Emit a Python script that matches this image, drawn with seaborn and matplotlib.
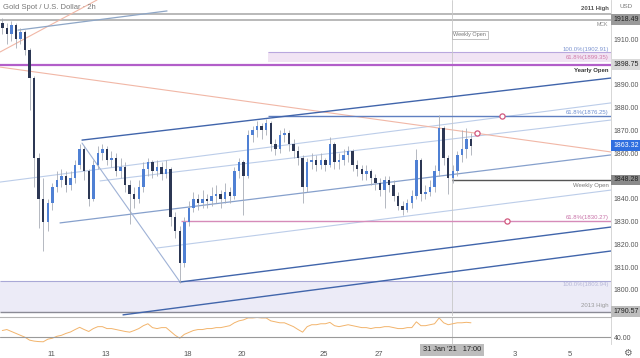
"""Gold spot 2h chart with channel drawings and RSI pane"""
import matplotlib
matplotlib.use("Agg")
import matplotlib.pyplot as plt
import pandas as pd
import seaborn as sns

# 4h bars, first bar on 8 Jan
CLOSE = [1915, 1912, 1916, 1910, 1913, 1905, 1893, 1858, 1840, 1830,
         1838, 1845, 1848, 1850, 1846, 1849, 1855, 1862, 1852, 1840,
         1855, 1860, 1862, 1857, 1858, 1852, 1854, 1846, 1842, 1840,
         1845, 1853, 1856, 1852, 1854, 1851, 1853, 1832, 1826, 1812,
         1830, 1836, 1840, 1838, 1840, 1839, 1841, 1842, 1840, 1843,
         1841, 1852, 1856, 1850, 1868, 1870, 1872, 1870, 1873, 1864,
         1862, 1868, 1869, 1864, 1861, 1858, 1845, 1856, 1857, 1855,
         1857, 1855, 1864, 1856, 1857, 1859, 1861, 1855, 1853, 1851,
         1852, 1849, 1847, 1844, 1848, 1846, 1841, 1837, 1835, 1838,
         1841, 1857, 1842, 1843, 1845, 1852, 1871, 1858, 1849, 1852,
         1859, 1862, 1866, 1863.32]
HIGH = [1919, 1917, 1918, 1917, 1915, 1914, 1906, 1894, 1860, 1849,
        1840, 1847, 1852, 1853, 1852, 1852, 1857, 1864, 1863, 1853,
        1857, 1863, 1864, 1863, 1861, 1860, 1858, 1856, 1848, 1845,
        1848, 1856, 1858, 1857, 1857, 1856, 1857, 1854, 1834, 1828,
        1832, 1839, 1843, 1842, 1844, 1842, 1845, 1846, 1844, 1847,
        1845, 1854, 1858, 1857, 1870, 1872, 1874, 1873, 1875, 1874,
        1866, 1870, 1871, 1870, 1866, 1863, 1859, 1858, 1860, 1859,
        1860, 1858, 1867, 1865, 1860, 1862, 1863, 1862, 1857, 1855,
        1855, 1853, 1851, 1849, 1850, 1850, 1848, 1843, 1839, 1840,
        1844, 1862, 1858, 1846, 1848, 1855, 1876.5, 1872, 1859, 1855,
        1861, 1870, 1871, 1869]
LOW = [1912, 1908, 1909, 1906, 1908, 1903, 1879, 1845, 1827, 1817,
       1826, 1835, 1843, 1845, 1843, 1844, 1847, 1853, 1848, 1837,
       1839, 1853, 1857, 1855, 1854, 1850, 1849, 1843, 1829, 1836,
       1838, 1843, 1850, 1849, 1850, 1848, 1849, 1828, 1823, 1803,
       1810, 1828, 1834, 1835, 1836, 1836, 1837, 1838, 1836, 1838,
       1838, 1840, 1849, 1833, 1849, 1865, 1867, 1866, 1868, 1861,
       1859, 1860, 1865, 1861, 1858, 1855, 1838, 1843, 1853, 1852,
       1853, 1852, 1854, 1853, 1853, 1855, 1856, 1852, 1850, 1848,
       1848, 1846, 1844, 1841, 1836, 1843, 1839, 1835, 1833, 1834,
       1836, 1840, 1839, 1840, 1841, 1843, 1850, 1855, 1842, 1847,
       1850, 1856, 1858, 1859]
FIRST_OPEN = 1917
RSI = [47, 48, 46, 44, 42, 40, 37, 36, 35.5, 35.3,
       38, 39, 41, 42, 44, 45.5, 48, 50.3, 48, 46,
       49, 51, 51, 49, 49, 48, 47, 46, 45.3, 47,
       49, 52, 54, 50, 49, 50, 50, 46, 42, 39,
       43, 45, 47, 48, 48, 49, 49, 50, 50, 51,
       52, 55, 57, 58, 60, 60, 60.5, 60, 60, 57,
       56, 55, 55, 53, 51, 48, 45.3, 51, 53, 53,
       54, 54, 55.4, 52, 51, 52, 53, 52, 51, 50,
       50, 49, 50, 50, 51, 51, 50, 49, 49, 50,
       50, 56, 52, 52, 53, 54, 60, 55, 53, 54,
       55, 55, 55.5, 55]

# x is a trading-day index, 11 Jan = 0 (weekends skipped)
BAR_START = -1.786
BARS_PER_DAY = 6
DAY_TICKS = [0, 2, 5, 7, 10, 12, 17, 19]
DAY_LABELS = ["11", "13", "18", "20", "25", "27", "3", "5"]
PRICE_TICKS = [1800, 1810, 1820, 1830, 1840, 1860, 1870, 1880, 1890, 1910]
CROSSHAIR_DAY = 14.69

# trend lines: (day0, price0, day1, price1)
CHANNEL_DARK = [(1.134, 1865.7, 20.51, 1892.9),
                (4.723, 1803.5, 20.51, 1827.6),
                (2.636, 1789.1, 20.51, 1817.1)]
CHANNEL_LIGHT = [(-1.87, 1847.3, 20.51, 1882.0),
                 (1.793, 1847.8, 20.51, 1874.5),
                 (3.881, 1818.4, 20.51, 1843.8)]
CHANNEL_MID = (0.328, 1829.4, 20.51, 1859.2)
HANDLE = (1.134, 1864.4, 4.723, 1803.5)
SALMON_DOWN = (-1.87, 1897.7, 20.51, 1860.5)
SALMON_UP = (-1.87, 1904.3, 1.683, 1927.1)
OLD_TREND = (-1.21, 1913.9, 4.247, 1922.3)
CIRCLES_DAY = [15.6, 16.52, 16.70]
CIRCLES_PRICE = [1868.9, 1876.25, 1830.27]

HIGH_2011 = 1920.8
LEVEL_1918 = 1918.49
YEARLY_OPEN = 1898.75
FIB_BAND = (1904.2, 1899.9)
FIB_1876 = 1876.25
WEEKLY_OPEN = 1848.28
FIB_1830 = 1830.27
LOW_BOX = (1803.9, 1790.57)
LAST_PRICE = 1863.32

XMIN, XMAX = -1.87, 20.51
UP, DOWN, WICK = "#4f80d4", "#2c3754", "#a8adb7"

sns.set_theme(style="white")
plt.rcParams["font.family"] = ["Liberation Sans", "DejaVu Sans"]

bars = pd.DataFrame({"close": CLOSE, "high": HIGH, "low": LOW, "rsi": RSI})
bars["open"] = [FIRST_OPEN] + CLOSE[:-1]
bars["day"] = BAR_START + bars.index / BARS_PER_DAY

fig = plt.figure(figsize=(6.4, 3.58), dpi=100)
ax = fig.add_axes([0.0, 0.1173, 0.9547, 0.8827])
rx = fig.add_axes([0.0, 0.0391, 0.9547, 0.0754], sharex=ax)


def seg(a, line, **kw):
    a.plot([line[0], line[2]], [line[1], line[3]], **kw)


# level boxes and horizontal levels
ax.fill_between([XMIN, XMAX], LOW_BOX[1], LOW_BOX[0], color="#ecebf7", lw=0, zorder=0)
ax.hlines(LOW_BOX[0], XMIN, XMAX, color="#a9a8d6", lw=0.8, zorder=1)
ax.hlines(LOW_BOX[1], XMIN, XMAX, color="#8a8a95", lw=1.0, zorder=1)
ax.fill_between([7.947, XMAX], FIB_BAND[1], FIB_BAND[0], color="#f1e4f4", lw=0, zorder=0)
ax.hlines(FIB_BAND[0], 7.947, XMAX, color="#b9a7de", lw=0.8, zorder=1)
ax.hlines(YEARLY_OPEN, XMIN, XMAX, color="#b25ec9", lw=1.6, zorder=2)
ax.hlines([HIGH_2011, LEVEL_1918], XMIN, XMAX, color="#a5a5a5", lw=1.1, zorder=1)
ax.hlines(FIB_1876, 7.93, XMAX, color="#5f7fc0", lw=1.0, zorder=2)
ax.hlines(FIB_1830, 4.75, XMAX, color="#d68bb9", lw=1.0, zorder=2)
ax.hlines(WEEKLY_OPEN, CROSSHAIR_DAY, XMAX, color="#555555", lw=1.0, zorder=2)

# channel drawings
for line in CHANNEL_DARK:
    seg(ax, line, color="#4165ab", lw=1.0, zorder=2)
for line in CHANNEL_LIGHT:
    seg(ax, line, color="#bccde9", lw=0.8, zorder=1)
seg(ax, CHANNEL_MID, color="#86a0cc", lw=0.9, zorder=1)
seg(ax, HANDLE, color="#9fb2d6", lw=0.8, zorder=1)
seg(ax, SALMON_DOWN, color="#f1b7a6", lw=0.8, zorder=1)
seg(ax, SALMON_UP, color="#f1b7a6", lw=0.8, zorder=1)
seg(ax, OLD_TREND, color="#8ea6c6", lw=0.9, zorder=1)

# candles
up = bars["close"] >= bars["open"]
ax.vlines(bars["day"], bars["low"], bars["high"], color=WICK, lw=0.6, zorder=3)
body_lo = bars[["open", "close"]].min(axis=1)
body_h = (bars["close"] - bars["open"]).abs().clip(lower=0.4)
ax.bar(bars["day"], body_h, bottom=body_lo, width=0.09,
       color=[UP if u else DOWN for u in up], lw=0, zorder=4)

sns.scatterplot(x=CIRCLES_DAY, y=CIRCLES_PRICE, ax=ax, s=14, marker="o",
                facecolor="white", edgecolor="#d2587e", linewidth=0.9, zorder=5)

ax.axvline(CROSSHAIR_DAY, color="#c8c8c8", lw=0.6, zorder=1)
rx.axvline(CROSSHAIR_DAY, color="#c8c8c8", lw=0.6, zorder=1)

ax.set_xlim(XMIN, XMAX)
ax.set_ylim(1788.6, 1927.1)
ax.yaxis.tick_right()
ax.set_yticks(PRICE_TICKS)
ax.set_yticklabels([f"{v:.2f}" for v in PRICE_TICKS])
ax.tick_params(axis="y", length=0, pad=2, labelsize=5, labelcolor="#555555")
ax.tick_params(axis="x", bottom=False, labelbottom=False)
for s in ["top", "left", "bottom"]:
    ax.spines[s].set_visible(False)
ax.spines["right"].set_color("#d0d0d0")
ax.spines["right"].set_linewidth(0.6)

# right-side labels
tx = 20.42
small = dict(ha="right", va="center", fontsize=4.3)
ax.text(tx, 1923.2, "2011 High", color="#555555", fontweight="bold", **small)
ax.text(tx, 1916.4, "MCK", color="#888888", fontsize=3.8, ha="right", va="center")
ax.text(tx, 1905.4, "100.0%(1902.91)", color="#7b93d0", **small)
ax.text(tx, 1901.9, "61.8%(1899.35)", color="#d07aa8", **small)
ax.text(tx, 1896.2, "Yearly Open", color="#333333", fontweight="bold", **small)
ax.text(tx, 1877.8, "61.8%(1876.25)", color="#6f8fd0", **small)
ax.text(tx, 1846.0, "Weekly Open", color="#777777", **small)
ax.text(tx, 1831.9, "61.8%(1830.27)", color="#c872a8", **small)
ax.text(tx, 1802.3, "100.0%(1803.94)", color="#b8b8d8", **small)
ax.text(tx, 1793.0, "2013 High", color="#999999", **small)
ax.text(CROSSHAIR_DAY + 0.05, 1911.8, "Weekly Open", fontsize=4.0, color="#777777",
        ha="left", va="center",
        bbox=dict(boxstyle="square,pad=0.25", fc="white", ec="#aaaaaa", lw=0.5))

boxes = [(LEVEL_1918, "#9a9a9a", "#222222"), (YEARLY_OPEN, "#d9d9d9", "#222222"),
         (LAST_PRICE, "#2f6fe0", "white"), (WEEKLY_OPEN, "#8a8a8a", "#222222"),
         (LOW_BOX[1], "#bdbdbd", "#222222")]
for price, fc, tc in boxes:
    ax.annotate(f"{price:.2f}", xy=(1.0, price), xycoords=("axes fraction", "data"),
                xytext=(1.5, 0), textcoords="offset points", ha="left", va="center",
                fontsize=5, color=tc, annotation_clip=False,
                bbox=dict(boxstyle="square,pad=0.25", fc=fc, ec="none"))

ax.text(0.005, 0.975, "Gold Spot / U.S. Dollar · 2h", transform=ax.transAxes,
        fontsize=5.5, color="#777777", ha="left", va="center")
fig.text(0.978, 0.982, "USD", fontsize=4.5, color="#777777", ha="center", va="center")

# RSI pane
sns.lineplot(data=bars, x="day", y="rsi", ax=rx, color="#f2b46c", lw=0.7)
rx.axhline(40, color="#9a9a9a", lw=0.8)
rx.set_ylim(33, 61)
rx.yaxis.tick_right()
rx.set_yticks([40])
rx.set_yticklabels(["40.00"])
rx.tick_params(axis="y", length=0, pad=2, labelsize=5, labelcolor="#555555")
rx.set_xticks(DAY_TICKS)
rx.set_xticklabels(DAY_LABELS)
rx.tick_params(axis="x", length=0, pad=5, labelsize=5.5, labelcolor="#555555")
rx.set_xlabel("")
rx.set_ylabel("")
for s in ["left", "bottom"]:
    rx.spines[s].set_visible(False)
rx.spines["top"].set_color("#b5b5b5")
rx.spines["top"].set_linewidth(0.8)
rx.spines["right"].set_color("#d0d0d0")
rx.spines["right"].set_linewidth(0.6)
rx.text(CROSSHAIR_DAY, 27.0, "31 Jan '21   17:00", fontsize=5.3, color="#222222",
        ha="center", va="center", clip_on=False,
        bbox=dict(boxstyle="square,pad=0.35", fc="#bdbdbd", ec="none"))
fig.text(0.98, 0.014, "\u2699", fontsize=7, color="#666666", ha="center", va="center")

fig.savefig("out.png", dpi=100)
